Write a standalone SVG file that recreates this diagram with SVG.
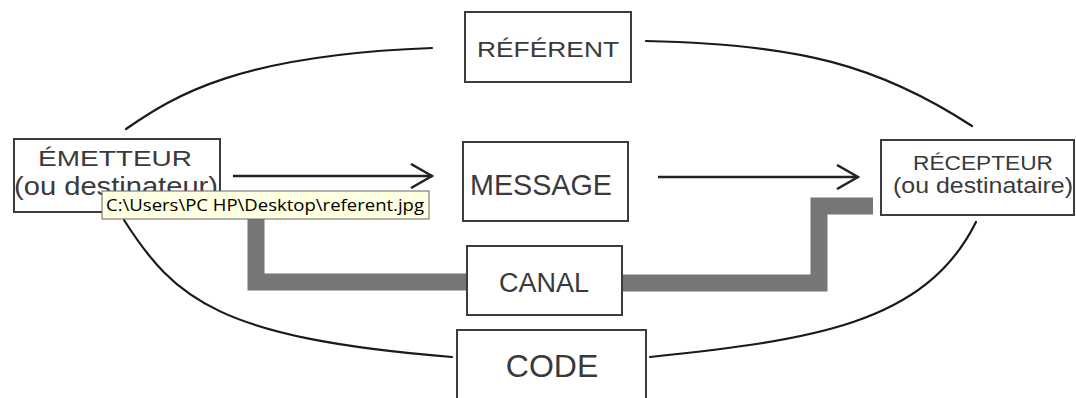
<svg xmlns="http://www.w3.org/2000/svg" width="1076" height="398" viewBox="0 0 1076 398">
<style>
.box{fill:#fff;stroke:#3c3c3c;stroke-width:2}
.t{font-family:"Liberation Sans",Arial,sans-serif;fill:#3a3a3a;text-anchor:middle}
.curve{fill:none;stroke:#1a1a1a;stroke-width:2.2;stroke-linecap:round}
.arrow{fill:none;stroke:#222;stroke-width:2.5}
.canal{fill:none;stroke:#767676;stroke-width:17;stroke-linejoin:miter}
</style>
<defs>
<marker id="chev" viewBox="0 0 24 26" refX="22" refY="13" markerWidth="24" markerHeight="26" markerUnits="userSpaceOnUse" orient="auto">
<path d="M1,1 L22,13 L1,25" fill="none" stroke="#222" stroke-width="2.5"/>
</marker>
</defs>
<rect width="1076" height="398" fill="#fff"/>
<g id="connectors">
<path class="curve" d="M126,129 C175,95 240,55 432,48"/>
<path class="curve" d="M646,41 C800,44 880,66 972,126"/>
<path class="curve" d="M124,220 C175,300 220,338 452,357"/>
<path class="curve" d="M650,357 C810,340 925,325 976,222"/>
<line class="arrow" x1="233" y1="176" x2="432" y2="176" marker-end="url(#chev)"/>
<line class="arrow" x1="658" y1="177" x2="858" y2="177" marker-end="url(#chev)"/>
<polyline class="canal" points="256,200 256,282 468,282"/>
<polyline class="canal" points="622,283 819,283 819,206 873,206"/>
</g>
<g id="referent">
<rect class="box" x="465" y="12" width="166" height="70"/>
<text class="t" x="548" y="57" font-size="22" textLength="142" lengthAdjust="spacingAndGlyphs">RÉFÉRENT</text>
</g>
<g id="emetteur">
<rect class="box" x="14" y="139" width="206" height="73"/>
<text class="t" x="115" y="166" font-size="22" textLength="154" lengthAdjust="spacingAndGlyphs">ÉMETTEUR</text>
<text class="t" x="116" y="195" font-size="25" textLength="204" lengthAdjust="spacingAndGlyphs">(ou destinateur)</text>
</g>
<g id="message">
<rect class="box" x="463" y="142" width="165" height="79"/>
<text class="t" x="541" y="195" font-size="30" textLength="142" lengthAdjust="spacingAndGlyphs">MESSAGE</text>
</g>
<g id="recepteur">
<rect class="box" x="881" y="140" width="193" height="75"/>
<text class="t" x="983" y="170" font-size="20" textLength="140" lengthAdjust="spacingAndGlyphs">RÉCEPTEUR</text>
<text class="t" x="983" y="193" font-size="22" textLength="180" lengthAdjust="spacingAndGlyphs">(ou destinataire)</text>
</g>
<g id="canal">
<rect class="box" x="467" y="246" width="155" height="69"/>
<text class="t" x="544" y="292" font-size="27">CANAL</text>
</g>
<g id="code">
<rect class="box" x="457" y="330" width="189" height="72"/>
<text class="t" x="552" y="377" font-size="32">CODE</text>
</g>
<g id="tooltip">
<rect x="102" y="191" width="327" height="28" fill="#ffffe1" stroke="#646464" stroke-width="1"/>
<text x="106" y="211" font-family="'Open Sans','Liberation Sans',sans-serif" font-size="17" fill="#000" textLength="318" lengthAdjust="spacingAndGlyphs">C:\Users\PC HP\Desktop\referent.jpg</text>
</g>
</svg>
